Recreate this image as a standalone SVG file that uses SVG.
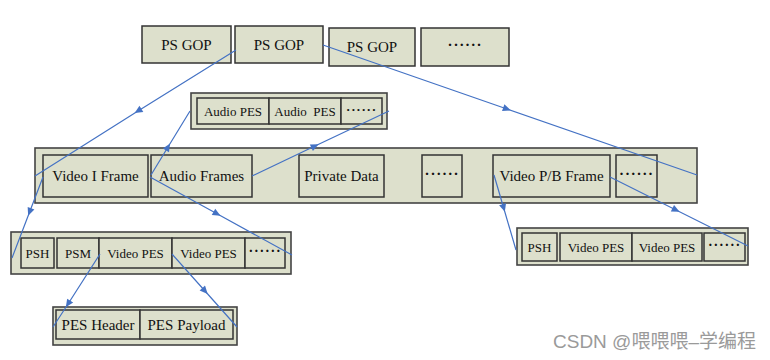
<svg xmlns="http://www.w3.org/2000/svg" width="770" height="360" viewBox="0 0 770 360">
<style>
.box{fill:#DDE0CC;stroke:#333;stroke-width:1.5}
.outer{fill:#DDE0CC;stroke:#444;stroke-width:1.6}
.t{font-family:"Liberation Serif","Times New Roman",serif;fill:#111;text-anchor:middle}
.f15{font-size:15px}
.f13{font-size:13px}
.dots{font-family:"Liberation Serif",serif;fill:#111;text-anchor:middle;font-size:15px;font-weight:bold;letter-spacing:0.8px}
.ln{fill:none;stroke:#4472C4;stroke-width:1.2;marker-mid:url(#ah)}
.wm{font-family:"Liberation Sans","Noto Sans CJK SC",sans-serif;font-size:19px;fill:#9a9a9a}
</style>
<defs>
<marker id="ah" viewBox="0 0 10 10" refX="5" refY="5" markerWidth="9" markerHeight="8" markerUnits="userSpaceOnUse" orient="auto">
<path d="M0,0.5 L10,5 L0,9.5 z" fill="#4472C4"/>
</marker>
</defs>
<rect width="770" height="360" fill="#fff"/>

<g id="gop1"><rect class="box" x="142" y="26" width="89" height="37"/><text class="t f15" x="186.5" y="50">PS GOP</text></g>
<g id="gop2"><rect class="box" x="235" y="26" width="88" height="37"/><text class="t f15" x="279" y="50">PS GOP</text></g>
<g id="gop3"><rect class="box" x="329" y="28" width="86" height="38"/><text class="t f15" x="372" y="52">PS GOP</text></g>
<g id="gop4"><rect class="box" x="421" y="28" width="88" height="38"/><text class="dots" x="465" y="50">······</text></g>

<g id="audio-pes-group">
<rect class="outer" x="191" y="93" width="196" height="36"/>
<g id="audio-pes1"><rect class="box" x="197" y="98" width="72" height="26"/><text class="t f13" x="233" y="115.5">Audio PES</text></g>
<g id="audio-pes2"><rect class="box" x="269" y="98" width="72" height="26"/><text class="t f13" x="305" y="115.5" xml:space="preserve">Audio  PES</text></g>
<g id="audio-pes-more"><rect class="box" x="341" y="98" width="41" height="26"/><text class="dots" x="361.5" y="114" style="font-size:13px">······</text></g>
</g>

<g id="frames">
<rect class="outer" x="35" y="148" width="662" height="55"/>
<g id="video-i"><rect class="box" x="43" y="155" width="105" height="42"/><text class="t f15" x="95.5" y="181">Video I Frame</text></g>
<g id="audio-frames"><rect class="box" x="151" y="155" width="101" height="42"/><text class="t f15" x="201.5" y="181">Audio Frames</text></g>
<g id="private-data"><rect class="box" x="299" y="155" width="85" height="42"/><text class="t f15" x="341.5" y="181">Private Data</text></g>
<g id="frames-more1"><rect class="box" x="422" y="155" width="40" height="42"/><text class="dots" x="442" y="179">······</text></g>
<g id="video-pb"><rect class="box" x="493" y="155" width="117" height="42"/><text class="t f15" x="551.5" y="181">Video P/B Frame</text></g>
<g id="frames-more2"><rect class="box" x="616" y="155" width="41" height="42"/><text class="dots" x="636.5" y="179">······</text></g>
</g>

<g id="i-pack">
<rect class="outer" x="11" y="232" width="280" height="42"/>
<g id="i-psh"><rect class="box" x="21" y="238" width="33" height="30"/><text class="t f13" x="37.5" y="257.5">PSH</text></g>
<g id="i-psm"><rect class="box" x="57" y="238" width="42" height="30"/><text class="t f13" x="78" y="257.5">PSM</text></g>
<g id="i-vpes1"><rect class="box" x="99" y="238" width="73" height="30"/><text class="t f13" x="135.5" y="257.5">Video PES</text></g>
<g id="i-vpes2"><rect class="box" x="172" y="238" width="73" height="30"/><text class="t f13" x="208.5" y="257.5">Video PES</text></g>
<g id="i-more"><rect class="box" x="245" y="238" width="40" height="30"/><text class="dots" x="265" y="256" style="font-size:14px">······</text></g>
</g>

<g id="pb-pack">
<rect class="outer" x="517" y="228" width="231" height="37"/>
<g id="pb-psh"><rect class="box" x="522" y="233" width="35" height="28"/><text class="t f13" x="539.5" y="251.5">PSH</text></g>
<g id="pb-vpes1"><rect class="box" x="560" y="233" width="72" height="28"/><text class="t f13" x="596" y="251.5">Video PES</text></g>
<g id="pb-vpes2"><rect class="box" x="632" y="233" width="70" height="28"/><text class="t f13" x="667" y="251.5">Video PES</text></g>
<g id="pb-more"><rect class="box" x="704" y="233" width="41" height="28"/><text class="dots" x="724.5" y="250" style="font-size:14px">······</text></g>
</g>

<g id="pes">
<rect class="outer" x="53" y="307" width="184" height="38"/>
<g id="pes-header"><rect class="box" x="56" y="310" width="84" height="29"/><text class="t f15" x="98" y="330">PES Header</text></g>
<g id="pes-payload"><rect class="box" x="140" y="310" width="93" height="29"/><text class="t f15" x="186.5" y="330">PES Payload</text></g>
</g>

<g id="connectors">
<path class="ln" d="M236,50 L138,111 L35,176"/>
<path class="ln" d="M323,45 L507,109 L697,175"/>
<path class="ln" d="M151,175 L168,147 L190,111"/>
<path class="ln" d="M252,176 L315,146 L389,111"/>
<path class="ln" d="M43,177 L29.6,212 L12,258"/>
<path class="ln" d="M150,177 L217,213.8 L292,255"/>
<path class="ln" d="M494,175 L503.7,208 L516,250"/>
<path class="ln" d="M610,177 L676,210 L748,246"/>
<path class="ln" d="M100,254 L68,304 L53,327"/>
<path class="ln" d="M172,254 L205,291 L237,327"/>
</g>

<text class="wm" x="553" y="348">CSDN @喂喂喂–学编程</text>
</svg>
